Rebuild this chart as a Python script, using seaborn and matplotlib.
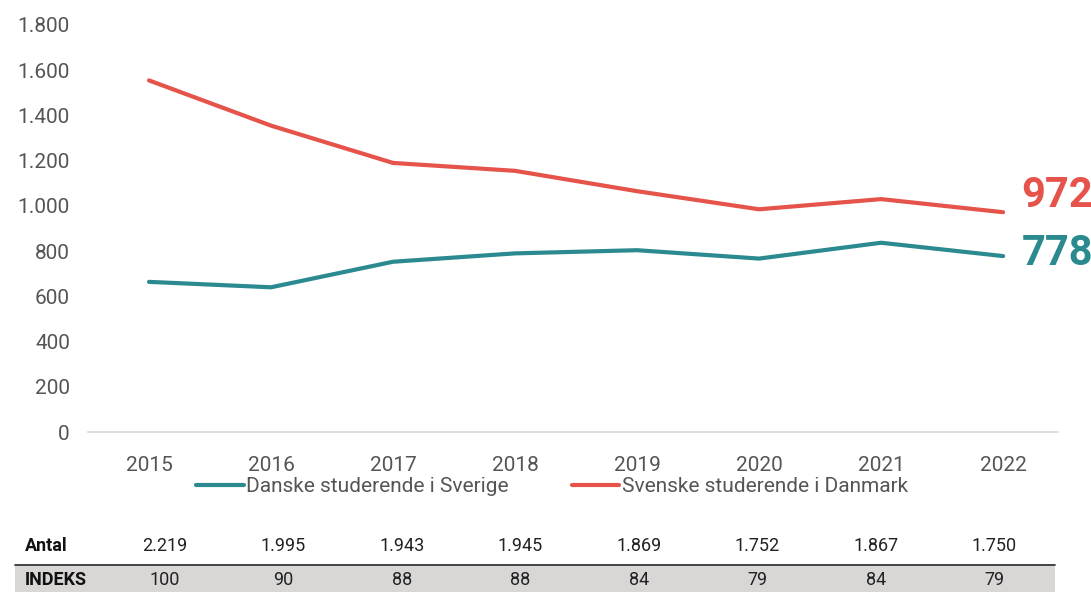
import matplotlib
matplotlib.use("Agg")
import matplotlib.pyplot as plt
from matplotlib.patches import Rectangle
from matplotlib.lines import Line2D
import seaborn as sns
import pandas as pd

years = ["2015", "2016", "2017", "2018", "2019", "2020", "2021", "2022"]
danske_i_sverige = [664, 640, 753, 790, 804, 767, 837, 778]
svenske_i_danmark = [1555, 1355, 1190, 1155, 1065, 985, 1030, 972]
antal = ["2.219", "1.995", "1.943", "1.945", "1.869", "1.752", "1.867", "1.750"]
indeks = ["100", "90", "88", "88", "84", "79", "84", "79"]
series_names = ["Danske studerende i Sverige", "Svenske studerende i Danmark"]
yticks = [0, 200, 400, 600, 800, 1000, 1200, 1400, 1600, 1800]
ytick_labels = ["0", "200", "400", "600", "800", "1.000", "1.200", "1.400", "1.600", "1.800"]

teal = "#2b8a8f"
red = "#e5534b"
grey_txt = "#555555"

sns.set_theme(style="white")
plt.rcParams["font.family"] = ["Roboto", "DejaVu Sans"]

df = pd.DataFrame({
    "year": years * 2,
    "value": danske_i_sverige + svenske_i_danmark,
    "series": [series_names[0]] * 8 + [series_names[1]] * 8,
})

W, H = 1091, 592
fig = plt.figure(figsize=(W / 100, H / 100), dpi=100)
ax = fig.add_axes([88 / W, 1 - 432 / H, (1058 - 88) / W, (432 - 25) / H])
sns.lineplot(data=df, x="year", y="value", hue="series", palette=[teal, red],
             linewidth=3, ax=ax, legend=False, sort=False)
ax.set_xlim(-0.5, 7.45)
ax.set_ylim(0, 1800)
ax.set_yticks(yticks)
ax.set_yticklabels(ytick_labels)
ax.set_xlabel("")
ax.set_ylabel("")
for s in ["top", "right", "left"]:
    ax.spines[s].set_visible(False)
ax.spines["bottom"].set_color("#d9d9d9")
ax.spines["bottom"].set_linewidth(1.2)
ax.tick_params(axis="both", length=0, labelsize=15, labelcolor=grey_txt)
ax.tick_params(axis="y", pad=13)
ax.tick_params(axis="x", pad=17)

# end labels
ax.text(7.15, svenske_i_danmark[-1] + 75, str(svenske_i_danmark[-1]), color=red,
        fontsize=30, fontweight="bold", va="center", ha="left", clip_on=False)
ax.text(7.15, danske_i_sverige[-1] + 12, str(danske_i_sverige[-1]), color=teal,
        fontsize=30, fontweight="bold", va="center", ha="left", clip_on=False)

# legend
handles = [Line2D([0], [0], color=teal, lw=3), Line2D([0], [0], color=red, lw=3)]
fig.legend(handles, series_names, loc="center", bbox_to_anchor=(552 / W, 1 - 487 / H),
           ncol=2, frameon=False, fontsize=15, labelcolor=grey_txt, handlelength=2.3,
           handletextpad=0.1, columnspacing=3)

# table below
fig.patches.append(Rectangle((15 / W, 0), (1055 - 15) / W, (H - 566) / H,
                             transform=fig.transFigure, facecolor="#d9d6d6",
                             edgecolor="none", zorder=-5))
fig.lines.append(Line2D([15 / W, 1055 / W], [1 - 565 / H] * 2, transform=fig.transFigure,
                        color="#222222", lw=1.2, zorder=-4))
y_antal = 1 - 546 / H
y_idx = 1 - 580 / H
fig.text(25 / W, y_antal, "Antal", fontsize=13, fontweight="bold", color="#111111", va="center")
fig.text(25 / W, y_idx, "INDEKS", fontsize=13, fontweight="bold", color="#111111", va="center")
for i in range(len(years)):
    cx = (165 + i * 118.5) / W
    fig.text(cx, y_antal, antal[i], ha="center", va="center", fontsize=13, color="#222222")
    fig.text(cx, y_idx, indeks[i], ha="center", va="center", fontsize=13, color="#222222")

fig.savefig("out.png", dpi=100)
